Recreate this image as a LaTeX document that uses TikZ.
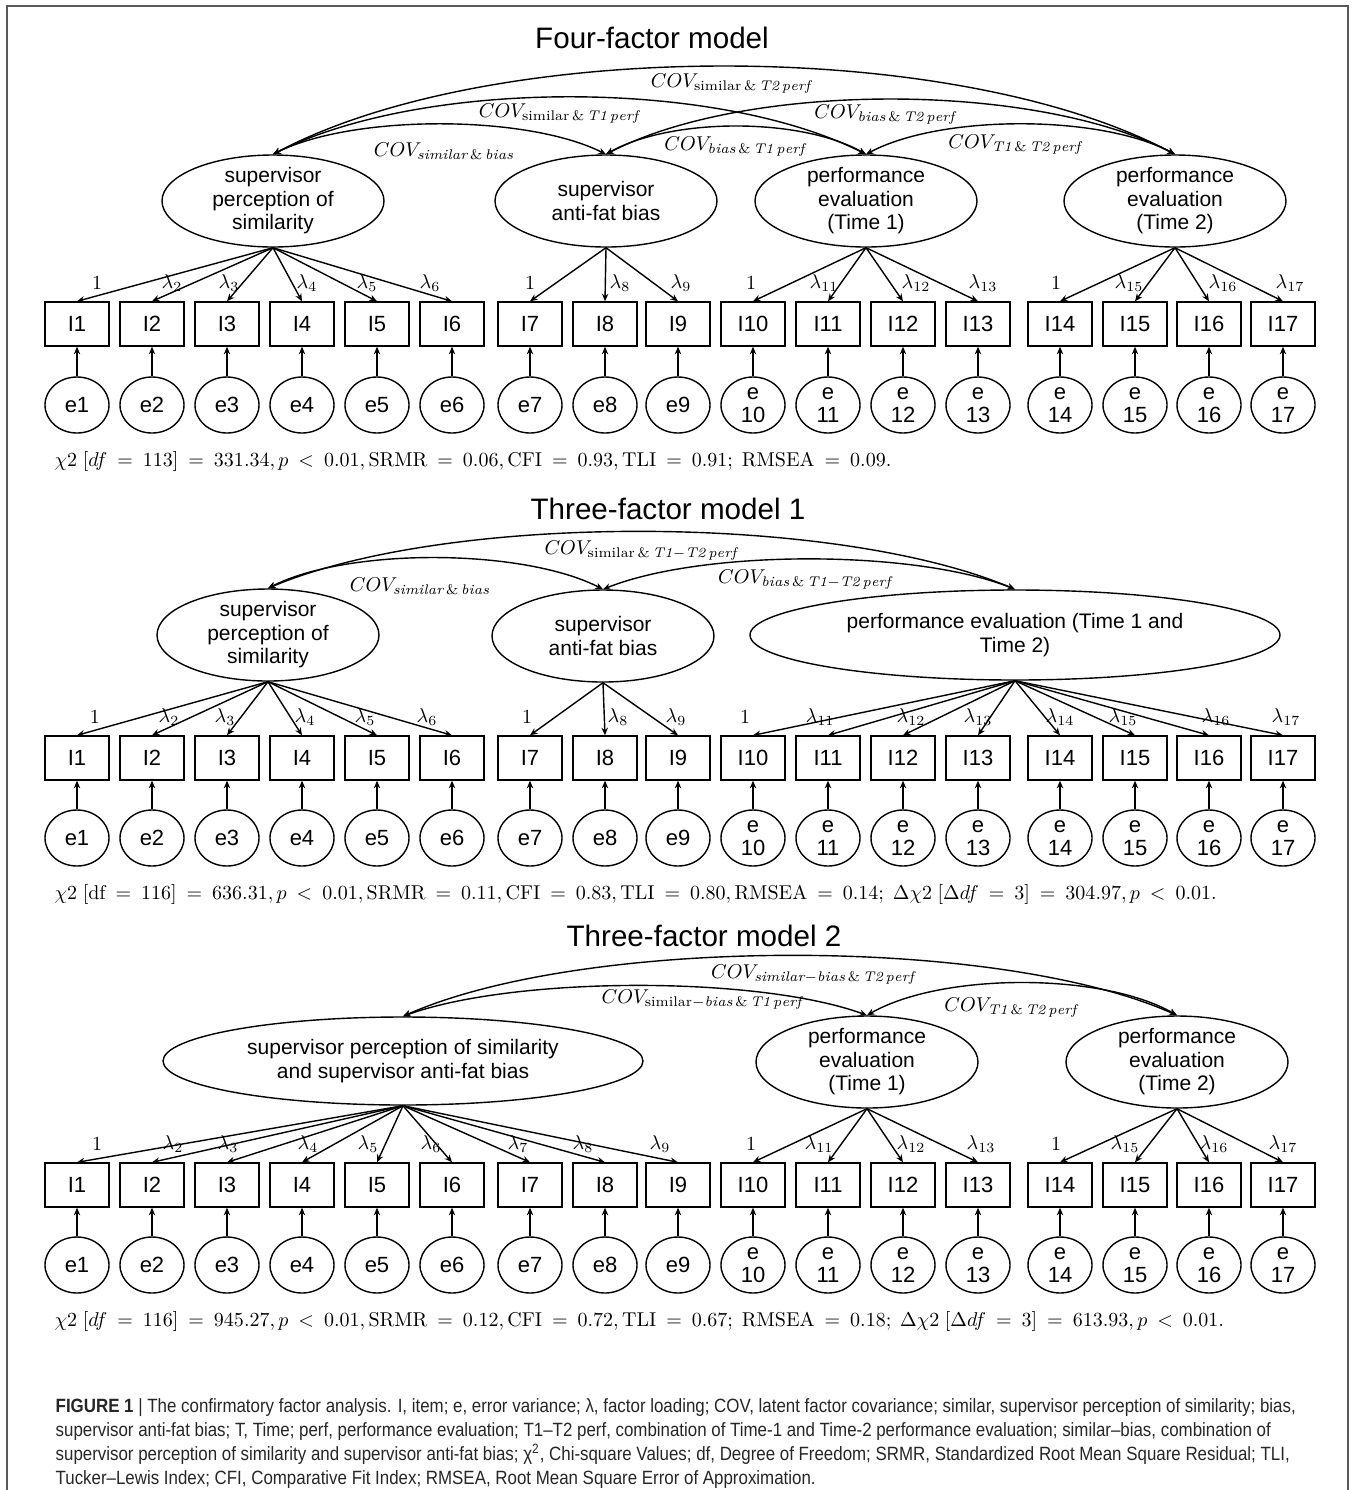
\documentclass[tikz,border=0pt]{standalone}
\usepackage{amsmath, amssymb}
\usepackage{fontspec}
\newfontfamily\sansfig{Liberation Sans}
\newfontfamily\capfont[FakeStretch=0.88]{Liberation Sans}
\usetikzlibrary{arrows.meta, positioning, calc, shapes.geometric}

% spaced relations for the fit lines
\newcommand{\eqs}{\mskip4mu=\mskip4mu}
\newcommand{\lts}{\mskip4mu<\mskip4mu}

% item positions (x) shared by the three models
\def\itemxs{1/77,2/152,3/227,4/302,5/377,6/452,7/530,8/605,9/678,10/753,11/828,12/903,13/978,14/1060,15/1135,16/1209,17/1283}

\begin{document}
\begin{tikzpicture}[x=0.5pt, y=-0.5pt, >={Stealth[length=3.8pt,width=3.2pt]}, line width=0.7pt,
  item/.style={draw, rectangle, minimum width=32pt, minimum height=22pt, inner sep=0pt,
    font=\sansfig\fontsize{11}{13}\selectfont},
  err/.style={draw, ellipse, minimum width=32pt, minimum height=28pt, inner sep=0pt, align=center,
    font=\sansfig\fontsize{11}{11.5}\selectfont},
  factor/.style={draw, ellipse, minimum width=111pt, minimum height=46pt, inner sep=-1pt, align=center,
    font=\sansfig\fontsize{10.5}{11.75}\selectfont},
  lam/.style={inner sep=0pt, font=\fontsize{10}{12}\selectfont},
  covlab/.style={inner sep=0pt, font=\fontsize{10}{12}\selectfont},
  fit/.style={anchor=west, inner sep=0pt, font=\fontsize{10}{12}\selectfont},
  title/.style={inner sep=0pt, font=\sansfig\fontsize{14.8}{17}\selectfont},
  caption/.style={anchor=north west, align=left, inner sep=0pt, text=black!85,
    font=\capfont\fontsize{9.6}{12}\selectfont}]

  \useasboundingbox (0,0) rectangle (1357,1490);
  \draw[black!65, line width=0.8pt] (7,1490) -- (7,6) -- (1348,6) -- (1348,1490);

  % ---------------- FOUR-FACTOR MODEL ----------------
  \node[title] (aTitle) at (652,38) {Four-factor model};
  \node[factor] (aSim) at (273,201) {supervisor\\perception of\\similarity};
  \node[factor] (aBias) at (606,201) {supervisor\\anti-fat bias};
  \node[factor] (aT1) at (866,201) {performance\\evaluation\\(Time 1)};
  \node[factor] (aT2) at (1175,201) {performance\\evaluation\\(Time 2)};

  \foreach \i/\x in \itemxs {
    \node[item] (aI\i) at (\x,324) {I\i};
    \ifnum\i<10 \node[err] (aE\i) at (\x,405) {e\i};
    \else \node[err] (aE\i) at (\x,405) {e\\\i}; \fi
    \draw[->] (aE\i) -- (aI\i);
  }

  % loadings
  \foreach \i/\lab/\dx in {1/1/20, 2/\lambda_2/20, 3/\lambda_3/2, 4/\lambda_4/5, 5/\lambda_5/-10, 6/\lambda_6/-22} {
    \draw[->] (aSim.south) -- (aI\i.north);
    \node[lam] (aL\i) at ($(aI\i.north)+(\dx,-18)$) {$\lab$};
  }
  \foreach \i/\lab/\dx in {7/1/0, 8/\lambda_8/15, 9/\lambda_9/3} {
    \draw[->] (aBias.south) -- (aI\i.north);
    \node[lam] (aL\i) at ($(aI\i.north)+(\dx,-18)$) {$\lab$};
  }
  \foreach \i/\lab/\dx in {10/1/-2, 11/\lambda_{11}/-4, 12/\lambda_{12}/13, 13/\lambda_{13}/5} {
    \draw[->] (aT1.south) -- (aI\i.north);
    \node[lam] (aL\i) at ($(aI\i.north)+(\dx,-18)$) {$\lab$};
  }
  \foreach \i/\lab/\dx in {14/1/-4, 15/\lambda_{15}/-6, 16/\lambda_{16}/14, 17/\lambda_{17}/7} {
    \draw[->] (aT2.south) -- (aI\i.north);
    \node[lam] (aL\i) at ($(aI\i.north)+(\dx,-18)$) {$\lab$};
  }

  % covariances
  \draw[<->] (aSim.north) .. controls +(80,-40) and +(-80,-40) .. (aBias.north);
  \draw[<->] (aSim.north) .. controls +(150,-76) and +(-150,-76) .. (aT1.north);
  \draw[<->] (aSim.north) .. controls +(220,-117) and +(-220,-117) .. (aT2.north);
  \draw[<->] (aBias.north) .. controls +(65,-37) and +(-65,-37) .. (aT1.north);
  \draw[<->] (aBias.north) .. controls +(140,-73) and +(-140,-73) .. (aT2.north);
  \draw[<->] (aT1.north) .. controls +(75,-40) and +(-75,-40) .. (aT2.north);
  \node[covlab] (aC1) at (444,151) {$COV_{\mathit{similar}\,\&\,\mathit{bias}}$};
  \node[covlab] (aC2) at (559,114) {$COV_{\mathrm{similar}\,\&\,\mathit{T1\,perf}}$};
  \node[covlab] (aC3) at (731,84) {$COV_{\mathrm{similar}\,\&\,\mathit{T2\,perf}}$};
  \node[covlab] (aC4) at (735,147) {$COV_{\mathit{bias}\,\&\,\mathit{T1\,perf}}$};
  \node[covlab] (aC5) at (885,115) {$COV_{\mathit{bias}\,\&\,\mathit{T2\,perf}}$};
  \node[covlab] (aC6) at (1015,145) {$COV_{\mathit{T1}\,\&\,\mathit{T2\,perf}}$};

  \node[fit] (aFit) at (54,461) {$\chi2\;[df\eqs113]\eqs331.34, p\lts0.01,\mathrm{SRMR}\eqs0.06, \mathrm{CFI}\eqs0.93, \mathrm{TLI}\eqs0.91;\;\mathrm{RMSEA}\eqs0.09.$};

  % ---------------- THREE-FACTOR MODEL 1 ----------------
  \node[title] (bTitle) at (668,509) {Three-factor model 1};
  \node[factor] (bSim) at (268,635) {supervisor\\perception of\\similarity};
  \node[factor] (bBias) at (603,636) {supervisor\\anti-fat bias};
  \node[factor, minimum width=265pt, minimum height=45pt] (bPerf) at (1015,635) {performance evaluation (Time 1 and\\Time 2)};

  \foreach \i/\x in \itemxs {
    \node[item] (bI\i) at (\x,758) {I\i};
    \ifnum\i<10 \node[err] (bE\i) at (\x,838) {e\i};
    \else \node[err] (bE\i) at (\x,838) {e\\\i}; \fi
    \draw[->] (bE\i) -- (bI\i);
  }

  \foreach \i/\lab/\dx in {1/1/18, 2/\lambda_2/17, 3/\lambda_3/-2, 4/\lambda_4/3, 5/\lambda_5/-12, 6/\lambda_6/-25} {
    \draw[->] (bSim.south) -- (bI\i.north);
    \node[lam] (bL\i) at ($(bI\i.north)+(\dx,-18)$) {$\lab$};
  }
  \foreach \i/\lab/\dx in {7/1/-3, 8/\lambda_8/13, 9/\lambda_9/-2} {
    \draw[->] (bBias.south) -- (bI\i.north);
    \node[lam] (bL\i) at ($(bI\i.north)+(\dx,-18)$) {$\lab$};
  }
  \foreach \i/\lab/\dx in {10/1/-8, 11/\lambda_{11}/-8, 12/\lambda_{12}/8, 13/\lambda_{13}/0,
      14/\lambda_{14}/0, 15/\lambda_{15}/-12, 16/\lambda_{16}/7, 17/\lambda_{17}/3} {
    \draw[->] (bPerf.south) -- (bI\i.north);
    \node[lam] (bL\i) at ($(bI\i.north)+(\dx,-18)$) {$\lab$};
  }

  \draw[<->] (bSim.north) .. controls +(80,-41) and +(-80,-41) .. (bBias.north);
  \draw[<->] (bSim.north) .. controls +(180,-76) and +(-180,-76) .. (bPerf.north);
  \draw[<->] (bBias.north) .. controls +(100,-40) and +(-100,-40) .. (bPerf.north);
  \node[covlab] (bC1) at (420,586) {$COV_{\mathit{similar}\,\&\,\mathit{bias}}$};
  \node[covlab] (bC2) at (641,551) {$COV_{\mathrm{similar}\,\&\,\mathit{T1{-}T2\,perf}}$};
  \node[covlab] (bC3) at (805,580) {$COV_{\mathit{bias}\,\&\,\mathit{T1{-}T2\,perf}}$};

  \node[fit] (bFit) at (54,894) {$\chi2\;[\mathrm{df}\eqs116]\eqs636.31, p\lts0.01,\mathrm{SRMR}\eqs0.11, \mathrm{CFI}\eqs0.83, \mathrm{TLI}\eqs0.80, \mathrm{RMSEA}\eqs0.14;\;\Delta\chi2\;[\Delta df\eqs3]\eqs304.97, p\lts0.01.$};

  % ---------------- THREE-FACTOR MODEL 2 ----------------
  \node[title] (cTitle) at (704,936) {Three-factor model 2};
  \node[factor, minimum width=240pt, minimum height=44pt] (cSim) at (403,1061) {supervisor perception of similarity\\and supervisor anti-fat bias};
  \node[factor] (cT1) at (867,1062) {performance\\evaluation\\(Time 1)};
  \node[factor] (cT2) at (1177,1062) {performance\\evaluation\\(Time 2)};

  \foreach \i/\x in \itemxs {
    \node[item] (cI\i) at (\x,1185) {I\i};
    \ifnum\i<10 \node[err] (cE\i) at (\x,1265) {e\i};
    \else \node[err] (cE\i) at (\x,1265) {e\\\i}; \fi
    \draw[->] (cE\i) -- (cI\i);
  }

  \foreach \i/\lab/\dx in {1/1/20, 2/\lambda_2/21, 3/\lambda_3/1, 4/\lambda_4/6, 5/\lambda_5/-9, 6/\lambda_6/-21,
      7/\lambda_7/-12, 8/\lambda_8/-22, 9/\lambda_9/-18} {
    \draw[->] (cSim.south) -- (cI\i.north);
    \node[lam] (cL\i) at ($(cI\i.north)+(\dx,-18)$) {$\lab$};
  }
  \foreach \i/\lab/\dx in {10/1/-2, 11/\lambda_{11}/-9, 12/\lambda_{12}/8, 13/\lambda_{13}/3} {
    \draw[->] (cT1.south) -- (cI\i.north);
    \node[lam] (cL\i) at ($(cI\i.north)+(\dx,-18)$) {$\lab$};
  }
  \foreach \i/\lab/\dx in {14/1/-4, 15/\lambda_{15}/-10, 16/\lambda_{16}/5, 17/\lambda_{17}/0} {
    \draw[->] (cT2.south) -- (cI\i.north);
    \node[lam] (cL\i) at ($(cI\i.north)+(\dx,-18)$) {$\lab$};
  }

  \draw[<->] (cSim.north) .. controls +(110,-40) and +(-110,-40) .. (cT1.north);
  \draw[<->] (cSim.north) .. controls +(180,-80) and +(-180,-80) .. (cT2.north);
  \draw[<->] (cT1.north) .. controls +(75,-43) and +(-75,-43) .. (cT2.north);
  \node[covlab] (cC1) at (702,1000) {$COV_{\mathrm{similar}\mathit{{-}bias}\,\&\,\mathit{T1\,perf}}$};
  \node[covlab] (cC2) at (813,975) {$COV_{\mathit{similar{-}bias}\,\&\,\mathit{T2\,perf}}$};
  \node[covlab] (cC3) at (1011,1008) {$COV_{\mathit{T1}\,\&\,\mathit{T2\,perf}}$};

  \node[fit] (cFit) at (54,1321) {$\chi2\;[df\eqs116]\eqs945.27, p\lts0.01,\mathrm{SRMR}\eqs0.12, \mathrm{CFI}\eqs0.72, \mathrm{TLI}\eqs0.67;\;\mathrm{RMSEA}\eqs0.18;\;\Delta\chi2\;[\Delta df\eqs3]\eqs613.93, p\lts0.01.$};

  % ---------------- CAPTION ----------------
  \node[caption] (cap) at (55,1398) {{\bfseries FIGURE 1} | The confirmatory factor analysis. I, item; e, error variance; λ, factor loading; COV, latent factor covariance; similar, supervisor perception of similarity; bias,\\
    supervisor anti-fat bias; T, Time; perf, performance evaluation; T1–T2 perf, combination of Time-1 and Time-2 performance evaluation; similar–bias, combination of\\
    supervisor perception of similarity and supervisor anti-fat bias; χ\textsuperscript{2}, Chi-square Values; df, Degree of Freedom; SRMR, Standardized Root Mean Square Residual; TLI,\\
    Tucker–Lewis Index; CFI, Comparative Fit Index; RMSEA, Root Mean Square Error of Approximation.};
\end{tikzpicture}
\end{document}
